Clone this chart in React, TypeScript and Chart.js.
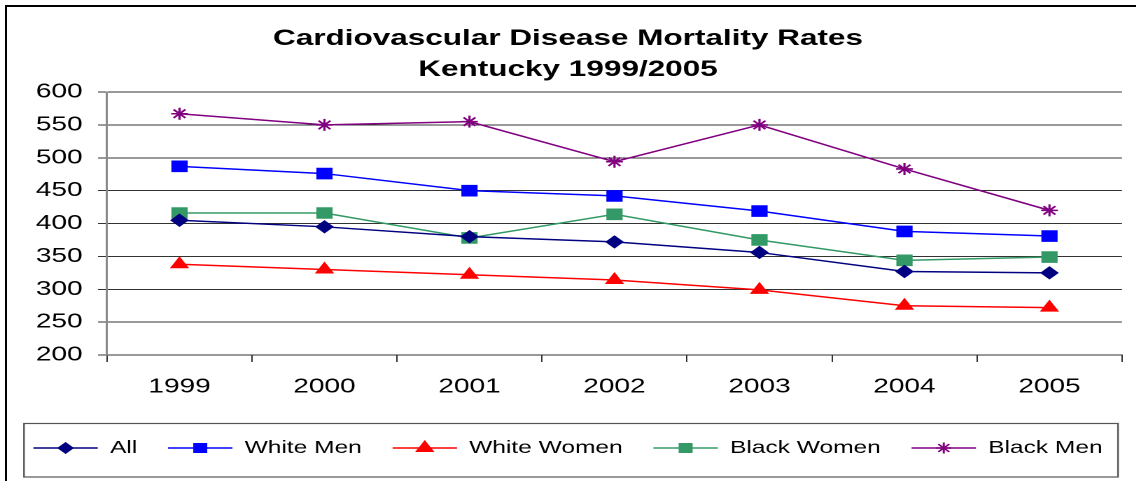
import React, { useEffect, useRef } from 'react';
import { Chart, registerables } from 'chart.js';
import { drawPoint } from 'chart.js/helpers';

Chart.register(...registerables);

// ---- data ----
const years = ['1999', '2000', '2001', '2002', '2003', '2004', '2005'];
const allRates = [405, 395, 380, 372, 356, 327, 325];
const whiteMen = [487, 476, 450, 442, 419, 388, 381];
const whiteWomen = [338, 330, 322, 314, 299, 275, 272];
const blackWomen = [416, 416, 378, 414, 375, 344, 349];
const blackMen = [567, 550, 555, 494, 550, 483, 420];
const titleLines = ['Cardiovascular Disease Mortality Rates', 'Kentucky 1999/2005'];
const yMin = 200;
const yMax = 600;
const yStep = 50;

// ---- styling ----
const FONT = "'Liberation Sans', Arial, sans-serif";
const STRETCH = 1.4;
const W = 1136;
const H = 481;
const LW = W / STRETCH;
const LEGEND_FONT = 17.5;
const LEGEND_SAMPLE = 46;

const series = [
  { label: 'All', data: allRates, color: '#000080', pointStyle: 'rectRot', radius: 6, legendRadius: 5 },
  { label: 'White Men', data: whiteMen, color: '#0000FF', pointStyle: 'rect', radius: 7.5, legendRadius: 6 },
  { label: 'White Women', data: whiteWomen, color: '#FF0000', pointStyle: 'triangle', radius: 7, legendRadius: 6.5 },
  { label: 'Black Women', data: blackWomen, color: '#339966', pointStyle: 'rect', radius: 7.5, legendRadius: 6 },
  { label: 'Black Men', data: blackMen, color: '#800080', pointStyle: 'star', radius: 6, legendRadius: 5.5 },
];

const legendDecor = {
  id: 'legendDecor',
  afterDraw(chart: any) {
    const legend = chart.legend;
    if (!legend || !legend.legendHitBoxes) return;
    const ctx = chart.ctx;
    legend.legendItems.forEach((item: any, i: number) => {
      const hb = legend.legendHitBoxes[i];
      const s = series[item.datasetIndex];
      const cx = hb.left + LEGEND_SAMPLE / 2;
      const cy = hb.top + LEGEND_FONT / 2;
      ctx.save();
      ctx.fillStyle = s.color;
      ctx.strokeStyle = s.color;
      ctx.lineWidth = 1.5;
      drawPoint(ctx, { pointStyle: s.pointStyle, radius: s.legendRadius, rotation: 0, borderWidth: 1.2 } as any, cx, cy);
      ctx.restore();
    });
    ctx.save();
    ctx.strokeStyle = '#555';
    ctx.lineWidth = 1.2;
    ctx.strokeRect(24 / STRETCH, 423.5, (1118 - 24) / STRETCH, 53.5);
    ctx.restore();
  },
};

export default function App() {
  const ref = useRef<HTMLCanvasElement>(null);

  useEffect(() => {
    if (!ref.current) return;
    const chart = new Chart(ref.current, {
      type: 'line',
      data: {
        labels: years,
        datasets: series.map((s) => ({
          label: s.label,
          data: s.data,
          borderColor: s.color,
          backgroundColor: s.color,
          borderWidth: 1.5,
          pointStyle: s.pointStyle as any,
          pointRadius: s.radius,
          pointHoverRadius: s.radius,
          pointBackgroundColor: s.color,
          pointBorderColor: s.color,
          pointBorderWidth: s.pointStyle === 'star' ? 1.6 : 1,
          tension: 0,
          fill: false,
        })),
      },
      options: {
        animation: false,
        responsive: true,
        maintainAspectRatio: false,
        devicePixelRatio: 2,
        events: [],
        layout: { padding: { left: 0, right: 0, top: 0, bottom: 14.25 } },
        plugins: {
          title: {
            display: true,
            text: titleLines,
            color: '#000',
            font: { family: FONT, size: 22.5, weight: 'bold', lineHeight: 1.37 },
            padding: { top: 23.6, bottom: 6.8 },
          },
          legend: {
            position: 'bottom',
            labels: {
              usePointStyle: true,
              pointStyleWidth: LEGEND_SAMPLE,
              padding: 22,
              color: '#000',
              font: { family: FONT, size: LEGEND_FONT },
              generateLabels: (chart: any) => {
                const base = Chart.defaults.plugins.legend.labels.generateLabels(chart);
                return base.map((l: any) => ({
                  ...l,
                  pointStyle: 'line',
                  lineWidth: 1.5,
                  strokeStyle: series[l.datasetIndex].color,
                  fillStyle: series[l.datasetIndex].color,
                }));
              },
            },
          },
          tooltip: { enabled: false },
        },
        scales: {
          x: {
            type: 'category',
            offset: true,
            grid: {
              display: true,
              offset: true,
              drawOnChartArea: false,
              drawTicks: true,
              tickLength: 7,
              color: '#333',
              lineWidth: 1,
            },
            border: { display: true, color: '#333', width: 1 },
            ticks: { color: '#000', font: { family: FONT, size: 20 }, padding: 13, maxRotation: 0 },
            afterFit: (scale: any) => {
              scale.height = 62.25;
            },
          },
          y: {
            min: yMin,
            max: yMax,
            ticks: { stepSize: yStep, color: '#000', font: { family: FONT, size: 20 }, padding: 11 },
            grid: { color: '#333', lineWidth: 1, drawTicks: true, tickLength: 6.4 },
            border: { display: true, color: '#888', width: 1.5 },
            afterFit: (scale: any) => {
              scale.width = 107 / STRETCH;
            },
          },
          yRightSpace: {
            position: 'right',
            display: true,
            grid: { display: false },
            ticks: { display: false },
            border: { display: false },
            afterFit: (scale: any) => {
              scale.width = (W - 1122) / STRETCH;
            },
          },
        },
      },
      plugins: [legendDecor],
    });
    return () => chart.destroy();
  }, []);

  return (
    <div style={{ position: 'fixed', left: 0, top: 0, width: W, height: H, overflow: 'hidden', background: '#fff' }}>
      <div
        style={{
          position: 'absolute',
          left: 5,
          top: 5,
          width: W + 20,
          height: H + 20,
          border: '2.5px solid #000',
          boxSizing: 'border-box',
        }}
      />
      <div
        style={{
          position: 'absolute',
          left: 0,
          top: 0,
          width: LW,
          height: H,
          transform: `scaleX(${STRETCH})`,
          transformOrigin: '0 0',
        }}
      >
        <canvas ref={ref} />
      </div>
    </div>
  );
}
